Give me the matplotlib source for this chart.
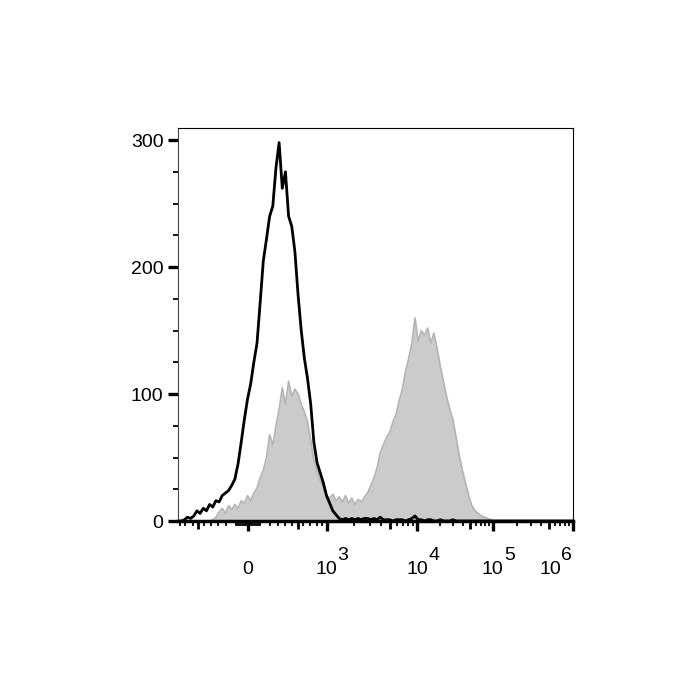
import numpy as np
import matplotlib.pyplot as plt

plt.rcParams['font.family'] = ['Liberation Sans', 'DejaVu Sans']

# histogram counts per display channel bin (8 channels per bin, 0-1000 scale)
bin_step = 8
n_bins = 126

control_counts = [
    0, 0, 1, 3, 2, 4, 8, 6, 10, 8,
    13, 11, 16, 15, 20, 22, 24, 28, 33, 45,
    62, 80, 96, 108, 125, 140, 172, 205, 222, 240,
    248, 278, 298, 262, 275, 240, 232, 212, 178, 150,
    128, 112, 92, 62, 46, 38, 30, 20, 14, 8,
    5, 2, 1, 2, 1, 2, 1, 2, 1, 2,
    2, 1, 2, 1, 3, 1, 1, 1, 0, 1,
    1, 1, 0, 1, 2, 4, 1, 1, 0, 1,
    1, 0, 0, 1, 0, 0, 0, 1, 0, 0,
]

stained_counts = [
    0, 0, 0, 0, 0, 0, 0, 0, 0, 0, 0,
    1, 3, 7, 10, 6, 12, 9, 13, 10, 16,
    14, 20, 16, 22, 26, 34, 40, 50, 68, 60,
    75, 88, 105, 92, 110, 98, 104, 100, 92, 86,
    78, 64, 48, 40, 32, 26, 20, 18, 21, 16,
    19, 15, 20, 14, 18, 13, 17, 15, 19, 22,
    28, 34, 42, 54, 60, 66, 70, 78, 84, 95,
    104, 118, 128, 140, 160, 142, 150, 146, 152, 140,
    148, 136, 122, 110, 98, 88, 80, 66, 52, 40,
    30, 20, 12, 8, 6, 4, 3, 2, 1, 0,
]

# axis decorations (channel positions of 0, 10^3 ... 10^6)
major_pos = [177, 376, 605, 797, 999]
major_base = ['0', '10', '10', '10', '10']
major_exp = ['', '3', '4', '5', '6']
near_zero_offsets = [56, 76, 94, 111, 139, 157, 175, 187]
neg_offsets = [56, 76, 94, 111, 139, 160, 172]
block_offsets = [5, 10, 15, 20, 25, 30]

y_major = [0, 100, 200, 300]

ch = np.arange(n_bins) * bin_step
ctrl = np.zeros(n_bins)
ctrl[:len(control_counts)] = control_counts
stain = np.zeros(n_bins)
stain[:len(stained_counts)] = stained_counts

fig = plt.figure(figsize=(7, 7), dpi=100)
ax = fig.add_axes([178 / 700, 179 / 700, 395 / 700, 393 / 700])

ax.fill_between(ch, stain, color='#cbcbcb', lw=0)
ax.plot(ch, stain, color='#b4b4b4', lw=1.2)
ax.plot(ch, ctrl, color='black', lw=2.0)

ax.set_xlim(0, 1000)
ax.set_ylim(0, 309.5)

# ticks on x: majors, mid (5x) ticks, minors
mid_pos = [major_pos[0] - 127, major_pos[0] + 127]
minor_pos = []
for k in range(1, 4):
    a, b = major_pos[k], major_pos[k + 1]
    for m in range(2, 10):
        p = a + (b - a) * np.log10(m)
        if m == 5:
            mid_pos.append(p)
        else:
            minor_pos.append(p)
minor_pos += [major_pos[0] + o for o in near_zero_offsets]
minor_pos += [major_pos[0] - o for o in neg_offsets]
minor_pos += [major_pos[0] + s * o for o in block_offsets for s in (-1, 1)]

ax.set_xticks(major_pos, labels=[''] * len(major_pos))
ax.set_xticks(minor_pos, minor=True)
ax.tick_params(axis='x', which='major', length=7.5, width=2.4, color='black')
ax.tick_params(axis='x', which='minor', length=3.5, width=1.3, color='black')

sec = ax.secondary_xaxis('bottom')
sec.set_xticks(mid_pos, labels=[''] * len(mid_pos))
sec.tick_params(length=5.5, width=2.0, color='black')
sec.spines['bottom'].set_visible(False)

for p, base, ex in zip(major_pos, major_base, major_exp):
    dx = -16 if ex == '6' else 0
    ax.annotate(base, xy=(p, 0), xycoords=('data', 'axes fraction'),
                xytext=(dx, -35), textcoords='offset points',
                ha='center', va='center', fontsize=14)
    if ex:
        ax.annotate(ex, xy=(p, 0), xycoords=('data', 'axes fraction'),
                    xytext=(dx + 8, -25), textcoords='offset points',
                    ha='left', va='center', fontsize=14)

ax.set_yticks(y_major)
ax.set_yticks(np.arange(0, 301, 25), minor=True)
ax.tick_params(axis='y', which='major', length=7.5, width=2.4, labelsize=14, pad=3)
ax.tick_params(axis='y', which='minor', length=3.5, width=1.3)

ax.spines['bottom'].set_linewidth(2.5)
ax.spines['left'].set_linewidth(0.8)
ax.spines['left'].set_color('#444444')
ax.spines['top'].set_linewidth(0.8)
ax.spines['right'].set_linewidth(0.8)

fig.savefig('out.png', dpi=100)
